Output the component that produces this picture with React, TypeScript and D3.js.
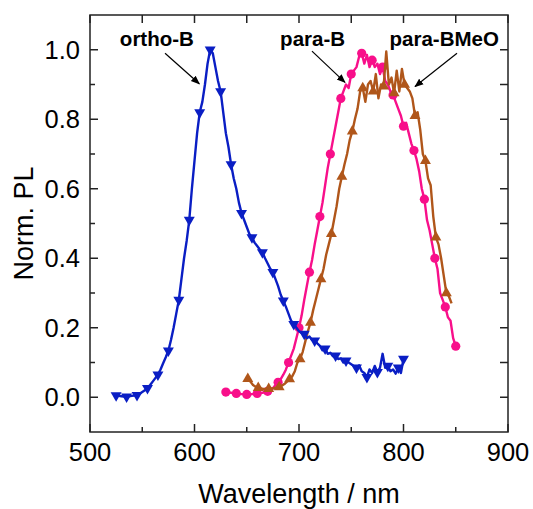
import React from 'react';
import * as d3 from 'd3';

// ---- data ----
const xTickValues = [500, 600, 700, 800, 900];
const xMinorValues = [550, 650, 750, 850];
const yTickValues = [0, 0.2, 0.4, 0.6, 0.8, 1.0];
const yMinorValues = [0.1, 0.3, 0.5, 0.7, 0.9];

// ortho-B: wavelengths from 525 nm, 2.5 nm step
const orthoStart = 525;
const orthoStep = 2.5;
const orthoB = [
  0.005, 0.004, 0.003, 0.002, 0.002, 0.003, 0.004, 0.005, 0.006, 0.010,
  0.015, 0.020, 0.026, 0.035, 0.045, 0.055, 0.065, 0.080, 0.098, 0.115,
  0.134, 0.165, 0.200, 0.240, 0.280, 0.340, 0.400, 0.450, 0.510, 0.600,
  0.680, 0.760, 0.820, 0.850, 0.900, 0.960, 1.000, 0.990, 0.950, 0.910,
  0.880, 0.820, 0.760, 0.720, 0.670, 0.630, 0.600, 0.560, 0.530, 0.510,
  0.490, 0.470, 0.460, 0.445, 0.435, 0.425, 0.417, 0.400, 0.385, 0.370,
  0.360, 0.340, 0.320, 0.295, 0.278, 0.260, 0.240, 0.220, 0.210, 0.200,
  0.190, 0.185, 0.182, 0.170, 0.175, 0.165, 0.163, 0.155, 0.148, 0.135,
  0.140, 0.125, 0.128, 0.118, 0.120, 0.110, 0.112, 0.100, 0.105, 0.100,
  0.095, 0.090, 0.085, 0.092, 0.075, 0.070, 0.058, 0.080, 0.070, 0.090,
  0.072, 0.085, 0.125, 0.085, 0.090, 0.075, 0.080, 0.068, 0.085, 0.070,
  0.110,
];

// para-B: wavelengths from 630 nm, 2.5 nm step
const paraStart = 630;
const paraStep = 2.5;
const paraB = [
  0.015, 0.014, 0.013, 0.012, 0.011, 0.010, 0.009, 0.009, 0.008, 0.008,
  0.009, 0.010, 0.011, 0.012, 0.013, 0.015, 0.017, 0.020, 0.026, 0.035,
  0.043, 0.052, 0.065, 0.080, 0.100, 0.120, 0.140, 0.170, 0.200, 0.235,
  0.280, 0.320, 0.360, 0.395, 0.440, 0.480, 0.520, 0.560, 0.610, 0.660,
  0.700, 0.740, 0.780, 0.820, 0.860, 0.880, 0.900, 0.890, 0.930, 0.940,
  0.950, 0.980, 0.990, 0.960, 0.985, 0.950, 0.970, 0.950, 0.960, 0.930,
  0.950, 0.910, 0.900, 0.880, 0.870, 0.850, 0.830, 0.810, 0.780, 0.790,
  0.760, 0.730, 0.710, 0.685, 0.650, 0.600, 0.570, 0.510, 0.480, 0.440,
  0.400, 0.370, 0.300, 0.280, 0.260, 0.230, 0.220, 0.170, 0.147,
];

// para-BMeO: wavelengths from 651 nm, 2.5 nm step
const meoStart = 651;
const meoStep = 2.5;
const paraBMeO = [
  0.053, 0.045, 0.035, 0.030, 0.027, 0.025, 0.024, 0.024, 0.024, 0.025,
  0.026, 0.028, 0.029, 0.033, 0.038, 0.045, 0.052, 0.060, 0.075, 0.100,
  0.110, 0.130, 0.160, 0.190, 0.215, 0.250, 0.280, 0.310, 0.340, 0.370,
  0.410, 0.440, 0.470, 0.510, 0.550, 0.600, 0.635, 0.670, 0.700, 0.740,
  0.765, 0.800, 0.830, 0.880, 0.890, 0.850, 0.900, 0.910, 0.880, 0.930,
  0.860, 0.900, 0.895, 0.995, 0.900, 0.920, 0.875, 0.940, 0.880, 0.945,
  0.900, 0.890, 0.880, 0.860, 0.810, 0.820, 0.770, 0.700, 0.680, 0.630,
  0.610, 0.520, 0.460, 0.440, 0.400, 0.350, 0.300, 0.290, 0.270,
];

// annotations: [label, textX(nm), textY, tailX, tailY, tipX, tipY]
const annotations: [string, number, number, number, number, number, number][] = [
  ['ortho-B', 564, 1.012, 571.8, 0.99, 604.6, 0.902],
  ['para-B', 713, 1.012, 712.4, 0.996, 744, 0.906],
  ['para-BMeO', 839, 1.012, 851.2, 0.99, 811, 0.894],
];

const BLUE = '#0A1EC4';
const PINK = '#F80F8A';
const BROWN = '#B0561A';
const FONT = '"Liberation Sans", Arial, Helvetica, sans-serif';

type Pt = [number, number];
const toPts = (start: number, step: number, vals: number[]): Pt[] =>
  vals.map((v, i) => [start + i * step, v]);

export default function App() {
  const left = 90, right = 508, top = 15, bottom = 432;
  const x = d3.scaleLinear().domain([500, 900]).range([left, right]);
  const y = d3.scaleLinear().domain([-0.1, 1.1]).range([bottom, top]);
  const line = d3.line<Pt>().x(d => x(d[0])).y(d => y(d[1]));

  const series = [
    { pts: toPts(paraStart, paraStep, paraB), color: PINK, marker: 'circle', every: 4, markLast: true },
    { pts: toPts(meoStart, meoStep, paraBMeO), color: BROWN, marker: 'up', every: 4, markLast: false },
    { pts: toPts(orthoStart, orthoStep, orthoB), color: BLUE, marker: 'down', every: 4, markLast: true },
  ];

  const tri = d3.symbol(d3.symbolTriangle, 52)() as string;
  const axisColor = '#222';
  const majorLen = 8, minorLen = 5;

  return (
    <svg width={533} height={509} style={{ position: 'absolute', left: 0, top: 0, background: '#fff' }}>
      <defs>
        <marker id="arrow" viewBox="0 0 10 10" refX="9" refY="5" markerWidth="9" markerHeight="9" markerUnits="userSpaceOnUse" orient="auto">
          <path d="M0,1 L10,5 L0,9 z" fill="#000" />
        </marker>
      </defs>
      <rect x={0} y={0} width={533} height={509} fill="#fff" />

      {series.map((s, si) => (
        <g key={si}>
          <path d={line(s.pts) as string} fill="none" stroke={s.color} strokeWidth={2.4} strokeLinejoin="round" />
          {s.pts.map((p, i) => {
            const isMark = i % s.every === 0 || (s.markLast && i === s.pts.length - 1);
            if (!isMark) return null;
            const cx = x(p[0]), cy = y(p[1]);
            if (s.marker === 'circle') return <circle key={i} cx={cx} cy={cy} r={4.6} fill={s.color} />;
            if (s.marker === 'up') return <path key={i} d={tri} transform={`translate(${cx},${cy})`} fill={s.color} />;
            return <path key={i} d={tri} transform={`translate(${cx},${cy}) rotate(180)`} fill={s.color} />;
          })}
        </g>
      ))}

      {/* frame */}
      <rect x={left} y={top} width={right - left} height={bottom - top} fill="none" stroke={axisColor} strokeWidth={1.5} />

      {/* x ticks */}
      {xTickValues.map(v => (
        <g key={'xt' + v}>
          <line x1={x(v)} x2={x(v)} y1={bottom} y2={bottom - majorLen} stroke={axisColor} strokeWidth={1.5} />
          <line x1={x(v)} x2={x(v)} y1={top} y2={top + majorLen} stroke={axisColor} strokeWidth={1.5} />
          <text x={x(v)} y={461} textAnchor="middle" fontFamily={FONT} fontSize={25.5} fill="#000">{v}</text>
        </g>
      ))}
      {xMinorValues.map(v => (
        <g key={'xm' + v}>
          <line x1={x(v)} x2={x(v)} y1={bottom} y2={bottom - minorLen} stroke={axisColor} strokeWidth={1.5} />
          <line x1={x(v)} x2={x(v)} y1={top} y2={top + majorLen} stroke={axisColor} strokeWidth={1.5} />
        </g>
      ))}

      {/* y ticks */}
      {yTickValues.map(v => (
        <g key={'yt' + v}>
          <line x1={left} x2={left + majorLen} y1={y(v)} y2={y(v)} stroke={axisColor} strokeWidth={1.5} />
          <line x1={right} x2={right - majorLen} y1={y(v)} y2={y(v)} stroke={axisColor} strokeWidth={1.5} />
          <text x={80} y={y(v)} dy="0.36em" textAnchor="end" fontFamily={FONT} fontSize={25.5} fill="#000">{d3.format('.1f')(v)}</text>
        </g>
      ))}
      {yMinorValues.map(v => (
        <g key={'ym' + v}>
          <line x1={left} x2={left + minorLen} y1={y(v)} y2={y(v)} stroke={axisColor} strokeWidth={1.5} />
          <line x1={right} x2={right - majorLen} y1={y(v)} y2={y(v)} stroke={axisColor} strokeWidth={1.5} />
        </g>
      ))}

      {/* axis titles */}
      <text x={(left + right) / 2} y={503} textAnchor="middle" fontFamily={FONT} fontSize={27} fill="#000">Wavelength / nm</text>
      <text transform={`translate(33,${(top + bottom) / 2}) rotate(-90)`} textAnchor="middle" fontFamily={FONT} fontSize={27} fill="#000">Norm. PL</text>

      {/* annotations */}
      {annotations.map(([label, tx, ty, ax, ay, bx, by]) => (
        <g key={label}>
          <text x={x(tx)} y={y(ty)} textAnchor="middle" fontFamily={FONT} fontWeight="bold" fontSize={20.5} fill="#000">{label}</text>
          <line x1={x(ax)} y1={y(ay)} x2={x(bx)} y2={y(by)} stroke="#000" strokeWidth={1.2} markerEnd="url(#arrow)" />
        </g>
      ))}
    </svg>
  );
}
